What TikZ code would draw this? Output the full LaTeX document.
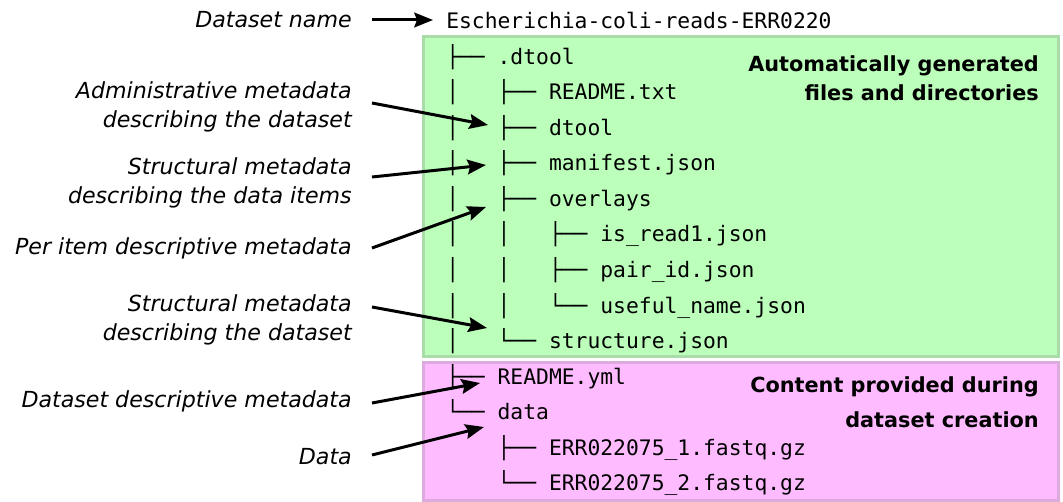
\documentclass[tikz,border=0pt]{standalone}
\usepackage{fontspec}
\setmainfont{DejaVu Sans}[ItalicFont={DejaVu Sans Oblique},BoldFont={DejaVu Sans Bold}]
\newfontfamily\treefont{DejaVu Sans Mono}
\usetikzlibrary{arrows.meta,calc}
\definecolor{autofill}{HTML}{BBFFBB}
\definecolor{autoline}{HTML}{A9DCA9}
\definecolor{userfill}{HTML}{FFBBFF}
\definecolor{userline}{HTML}{DDAADD}
\tikzset{
  treerow/.style={anchor=base west, inner sep=0pt, font=\treefont\fontsize{16}{19}\selectfont},
  desclabel/.style={anchor=east, inner sep=0pt, align=right, font=\itshape\fontsize{16.6}{22}\selectfont},
  boxlabel/.style={anchor=east, inner sep=0pt, align=right, font=\bfseries\fontsize{15.6}{22}\selectfont},
  boxlabelwide/.style={anchor=east, inner sep=0pt, align=right, font=\bfseries\fontsize{15.6}{26.2}\selectfont},
  pointer/.style={line width=2.25pt, -{Stealth[length=14pt,width=11pt,inset=2pt]}},
  autobox/.style={fill=autofill, draw=autoline, line width=2.25pt},
  userbox/.style={fill=userfill, draw=userline, line width=2.25pt}
}
\begin{document}
\begin{tikzpicture}[x=0.75pt,y=-0.75pt]
\useasboundingbox (0,0) rectangle (1063,502);
% coloured regions
\draw[autobox] (423.5,36.5) rectangle (1058.5,356.5);
\draw[userbox] (423.5,362.5) rectangle (1058.5,500.5);
% tree rows
\node[treerow] (r0)  at (446,29.0)  {Escherichia-coli-reads-ERR0220};
\node[treerow] (r1)  at (446,64.5)  {├──\ .dtool};
\node[treerow] (r2)  at (446,100.0) {│\ \ \ ├──\ README.txt};
\node[treerow] (r3)  at (446,135.5) {│\ \ \ ├──\ dtool};
\node[treerow] (r4)  at (446,171.0) {│\ \ \ ├──\ manifest.json};
\node[treerow] (r5)  at (446,206.5) {│\ \ \ ├──\ overlays};
\node[treerow] (r6)  at (446,242.0) {│\ \ \ │\ \ \ ├──\ is\_read1.json};
\node[treerow] (r7)  at (446,277.5) {│\ \ \ │\ \ \ ├──\ pair\_id.json};
\node[treerow] (r8)  at (446,313.0) {│\ \ \ │\ \ \ └──\ useful\_name.json};
\node[treerow] (r9)  at (446,348.5) {│\ \ \ └──\ structure.json};
\node[treerow] (r10) at (446,384.0) {├──\ README.yml};
\node[treerow] (r11) at (446,419.5) {└──\ data};
\node[treerow] (r12) at (446,455.0) {\ \ \ \ ├──\ ERR022075\_1.fastq.gz};
\node[treerow] (r13) at (446,490.5) {\ \ \ \ └──\ ERR022075\_2.fastq.gz};
% region labels
\node[boxlabel] (autolab) at (1039,78.5) {Automatically generated\\files and directories};
\node[boxlabelwide] (userlab) at (1039,402.5) {Content provided during\\dataset creation};
% description labels
\node[desclabel] (lname)  at (352,20)  {Dataset name};
\node[desclabel] (ladmin) at (352,107) {Administrative metadata\\describing the dataset};
\node[desclabel] (lstruct) at (352,183) {Structural metadata\\describing the data items};
\node[desclabel] (lper)   at (352,248) {Per item descriptive metadata};
\node[desclabel] (lstructds) at (352,320) {Structural metadata\\describing the dataset};
\node[desclabel] (ldsdesc) at (352,401) {Dataset descriptive metadata};
\node[desclabel] (ldata)  at (352,457) {Data};
% arrow targets
\coordinate (tname)  at (433,20);
\coordinate (tadmin) at (488,125);
\coordinate (tstruct) at (486,165);
\coordinate (tper)   at (486,207);
\coordinate (tstructds) at (487,328);
\coordinate (tdsdesc) at (480,383);
\coordinate (tdata)  at (484,427);
% arrows
\draw[pointer] ($(lname.east)+(20,0)$) -- (tname);
\draw[pointer] ($(ladmin.east)+(20,-4)$) -- (tadmin);
\draw[pointer] ($(lstruct.east)+(20,-6)$) -- (tstruct);
\draw[pointer] ($(lper.east)+(20,0)$) -- (tper);
\draw[pointer] ($(lstructds.east)+(20,-13)$) -- (tstructds);
\draw[pointer] ($(ldsdesc.east)+(20,2)$) -- (tdsdesc);
\draw[pointer] ($(ldata.east)+(20,-2)$) -- (tdata);
\end{tikzpicture}
\end{document}
